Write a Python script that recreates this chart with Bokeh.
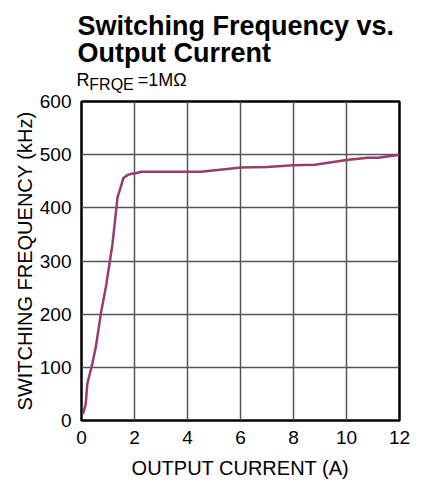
from bokeh.plotting import figure
from bokeh.models import Label, Range1d, FixedTicker
from bokeh.embed import file_html
from bokeh.resources import INLINE

# ---- data ----
current_a = [0.05, 0.10, 0.16, 0.22, 0.30, 0.41, 0.54, 0.73, 0.92, 1.17, 1.36,
             1.48, 1.58, 1.75, 1.90, 2.05, 2.25, 3.00, 4.50, 5.50, 6.00, 7.00,
             8.00, 8.80, 10.00, 10.80, 11.20, 12.00]
freq_khz = [12, 20, 31, 69, 85, 107, 138, 201, 251, 332, 420,
            439, 456, 462, 464, 465, 468, 468, 468, 473, 476, 477,
            480, 481, 490, 494, 494, 500]
x_ticks = [0, 2, 4, 6, 8, 10, 12]
y_ticks = [0, 100, 200, 300, 400, 500, 600]

title_line1 = "Switching Frequency vs."
title_line2 = "Output Current"
cond_main = "R"
cond_sub = "FRQE"
cond_rest = "=1MΩ"
x_label = "OUTPUT CURRENT (A)"
y_label = "SWITCHING FREQUENCY (kHz)"

FONT = "Liberation Sans"
LINE_COLOR = "#9b3b6b"

x0, x1 = x_ticks[0], x_ticks[-1]
y0, y1 = y_ticks[0], y_ticks[-1]

p = figure(width=422, height=483, output_backend="svg", toolbar_location=None,
           x_range=Range1d(x0, x1), y_range=Range1d(y0, y1),
           min_border_left=81, min_border_right=23,
           min_border_top=101, min_border_bottom=63)
p.background_fill_color = "white"
p.border_fill_color = "white"
p.outline_line_color = "black"
p.outline_line_width = 2.5
p.outline_line_alpha = 1.0

p.line(current_a, freq_khz, line_color=LINE_COLOR, line_width=2.5)

for ax, ticks in ((p.xaxis, x_ticks), (p.yaxis, y_ticks)):
    ax.ticker = FixedTicker(ticks=ticks)
    ax.axis_line_color = None
    ax.major_tick_line_color = None
    ax.minor_tick_line_color = None
    ax.major_tick_out = 0
    ax.major_tick_in = 0
    ax.minor_tick_out = 0
    ax.minor_tick_in = 0
    ax.major_label_text_font = FONT
    ax.major_label_text_font_size = "19px"
    ax.major_label_text_color = "black"
    ax.major_label_standoff = 10
    ax.axis_label_text_font = FONT
    ax.axis_label_text_font_size = "20px"
    ax.axis_label_text_font_style = "normal"
    ax.axis_label_text_color = "black"

p.xaxis.axis_label = x_label
p.xaxis.axis_label_standoff = 10
p.yaxis.axis_label = y_label
p.yaxis.axis_label_standoff = 1

p.xgrid.ticker = FixedTicker(ticks=x_ticks)
p.ygrid.ticker = FixedTicker(ticks=y_ticks)
for g in (p.xgrid, p.ygrid):
    g.grid_line_color = "#555555"
    g.grid_line_width = 1.5
    g.grid_line_alpha = 1.0

# texts anchored to the frame's top-left corner, shifted by pixel offsets
def lab(text, dx, dy, size, place, bold=False):
    p.add_layout(Label(x=x0, y=y1, x_offset=dx, y_offset=dy,
                       text=text, text_font=FONT, text_font_size=size,
                       text_font_style="bold" if bold else "normal",
                       text_color="black", text_align="left",
                       text_baseline="top"), place)

lab(title_line1, -4, 91, "27px", "above", bold=True)
lab(title_line2, -4, 64, "27px", "above", bold=True)
lab(cond_sub, 7.8, 26, "16px", "above")
lab(cond_rest, 56.3, 31.7, "18px", "above")
lab(cond_main, -5, 31.7, "18px", "right")

open("out.html", "w").write(file_html(p, INLINE))
